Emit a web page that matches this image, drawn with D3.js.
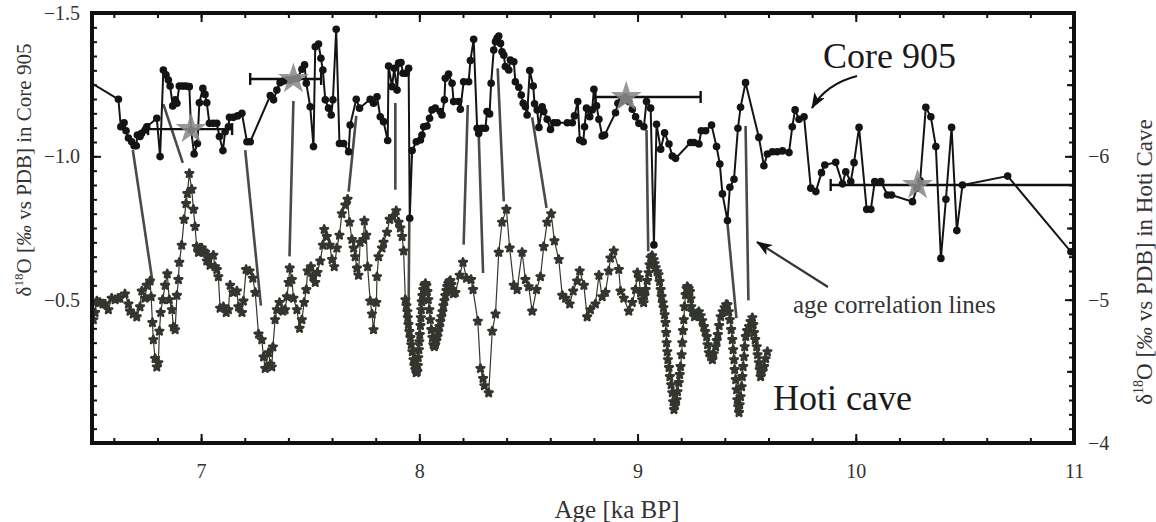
<!DOCTYPE html>
<html>
<head>
<meta charset="utf-8">
<script src="https://cdnjs.cloudflare.com/ajax/libs/d3/7.8.5/d3.min.js"></script>
<style>
  body { margin: 0; background: #fff; }
  svg { display: block; font-family: "Liberation Serif", "Times New Roman", serif; }
  svg text { font-family: "Liberation Serif", "Times New Roman", serif; }
</style>
</head>
<body>
<div id="chart"></div>
<script>
// Core 905: [age ka BP, d18O permil vs PDB]  (left axis)
var core905 = [
  [6.40,-1.30],[6.621,-1.199],[6.632,-1.103],[6.647,-1.117],[6.656,-1.089],[6.667,-1.064],[6.682,-1.051],
  [6.693,-1.037],[6.703,-1.037],[6.708,-1.074],[6.720,-1.069],[6.727,-1.080],[6.743,-1.092],[6.751,-1.103],
  [6.797,-1.133],[6.812,-0.999],[6.827,-1.301],[6.839,-1.284],[6.850,-1.266],[6.858,-1.245],[6.870,-1.176],
  [6.881,-1.197],[6.889,-1.185],[6.900,-1.245],[6.916,-1.245],[6.931,-1.245],[6.946,-1.243],[6.954,-1.092],
  [6.968,-1.008],[6.983,-1.045],[6.992,-1.187],[7.008,-1.237],[7.018,-1.216],[7.026,-1.187],[7.038,-1.115],
  [7.056,-1.115],[7.072,-1.115],[7.084,-1.069],[7.100,-1.020],[7.110,-1.086],[7.125,-1.103],[7.130,-1.136],
  [7.148,-1.136],[7.167,-1.141],[7.187,-1.150],[7.210,-1.051],[7.225,-1.051],[7.317,-1.212],[7.332,-1.197],
  [7.347,-1.231],[7.362,-1.257],[7.378,-1.263],[7.393,-1.266],[7.408,-1.266],[7.423,-1.270],[7.440,-1.272],
  [7.462,-1.304],[7.474,-1.319],[7.482,-1.255],[7.500,-1.173],[7.515,-1.034],[7.523,-1.382],[7.538,-1.392],
  [7.549,-1.342],[7.558,-1.301],[7.569,-1.197],[7.584,-1.168],[7.596,-1.144],[7.604,-1.197],[7.619,-1.443],
  [7.634,-1.045],[7.653,-1.045],[7.676,-1.016],[7.683,-1.109],[7.711,-1.199],[7.726,-1.168],[7.775,-1.199],
  [7.790,-1.185],[7.806,-1.208],[7.821,-1.138],[7.836,-1.121],[7.855,-1.055],[7.859,-1.315],[7.875,-1.243],
  [7.885,-1.307],[7.898,-1.231],[7.905,-1.325],[7.916,-1.327],[7.925,-1.290],[7.940,-1.290],[7.951,-1.307],
  [7.956,-0.784],[7.967,-1.020],[7.986,-1.051],[8.005,-1.057],[8.012,-1.074],[8.020,-1.103],[8.035,-1.106],
  [8.047,-1.133],[8.058,-1.162],[8.073,-1.168],[8.096,-1.156],[8.104,-1.144],[8.115,-1.197],[8.119,-1.272],
  [8.134,-1.287],[8.150,-1.255],[8.157,-1.191],[8.180,-1.191],[8.188,-1.164],[8.203,-1.260],[8.226,-1.260],
  [8.234,-1.334],[8.249,-1.408],[8.265,-1.098],[8.272,-1.080],[8.287,-1.098],[8.303,-1.098],[8.310,-1.156],
  [8.322,-1.148],[8.329,-1.255],[8.341,-1.371],[8.349,-1.400],[8.356,-1.412],[8.364,-1.420],[8.372,-1.394],
  [8.379,-1.365],[8.387,-1.353],[8.394,-1.313],[8.410,-1.301],[8.417,-1.336],[8.433,-1.330],[8.440,-1.260],
  [8.456,-1.241],[8.467,-1.214],[8.476,-1.185],[8.486,-1.173],[8.494,-1.144],[8.506,-1.299],[8.522,-1.245],
  [8.528,-1.183],[8.540,-1.162],[8.548,-1.101],[8.563,-1.173],[8.570,-1.156],[8.586,-1.129],[8.601,-1.094],
  [8.616,-1.117],[8.632,-1.117],[8.678,-1.117],[8.701,-1.117],[8.711,-1.141],[8.726,-1.191],[8.735,-1.057],
  [8.751,-1.051],[8.757,-1.103],[8.766,-1.168],[8.781,-1.138],[8.792,-1.162],[8.800,-1.234],[8.812,-1.176],
  [8.823,-1.129],[8.838,-1.071],[8.849,-1.074],[8.899,-1.152],[8.910,-1.185],[8.925,-1.191],[8.945,-1.208],
  [8.960,-1.191],[8.976,-1.164],[8.991,-1.138],[9.006,-1.115],[9.029,-1.103],[9.041,-1.191],[9.060,-1.168],
  [9.075,-0.691],[9.087,-1.112],[9.106,-1.025],[9.124,-1.082],[9.144,-1.043],[9.159,-1.001],[9.174,-0.993],
  [9.243,-1.048],[9.258,-1.048],[9.281,-1.043],[9.292,-1.089],[9.312,-1.089],[9.339,-1.109],[9.362,-1.034],
  [9.377,-0.973],[9.389,-0.869],[9.412,-0.776],[9.423,-0.892],[9.442,-0.920],[9.460,-1.098],[9.472,-1.171],
  [9.495,-1.257],[9.556,-1.066],[9.579,-0.967],[9.595,-1.008],[9.618,-1.016],[9.640,-1.016],[9.664,-1.019],
  [9.694,-1.013],[9.709,-1.103],[9.722,-1.162],[9.740,-1.129],[9.763,-1.138],[9.794,-0.889],[9.817,-0.877],
  [9.843,-0.943],[9.858,-0.970],[9.908,-0.979],[9.939,-0.904],[9.954,-0.946],[9.977,-0.912],[9.992,-0.978],
  [10.015,-1.101],[10.050,-0.815],[10.069,-0.815],[10.087,-0.912],[10.115,-0.912],[10.145,-0.865],[10.164,-0.865],
  [10.260,-0.842],[10.280,-0.889],[10.295,-0.915],[10.321,-1.171],[10.344,-1.138],[10.367,-1.034],[10.390,-0.644],
  [10.413,-0.850],[10.439,-1.101],[10.463,-0.741],[10.489,-0.900],[10.696,-0.931],[10.986,-0.667],[11.06,-0.62]
];

// Hoti cave: [age ka BP, d18O permil vs PDB]  (right axis)
var hotiCave = [
  [6.506,-4.86],[6.514,-4.91],[6.522,-4.99],[6.529,-4.98],[6.537,-4.98],[6.550,-4.97],[6.560,-4.97],[6.575,-4.93],
  [6.590,-5.01],[6.606,-5.00],[6.619,-5.01],[6.628,-5.01],[6.651,-5.04],[6.667,-4.97],[6.674,-4.92],[6.689,-4.90],
  [6.705,-4.88],[6.720,-4.95],[6.728,-5.06],[6.743,-5.01],[6.751,-5.10],[6.766,-5.13],[6.771,-5.02],[6.777,-4.84],
  [6.781,-4.72],[6.789,-4.59],[6.797,-4.53],[6.804,-4.56],[6.809,-4.78],[6.815,-4.91],[6.824,-5.00],[6.835,-5.10],
  [6.845,-5.18],[6.854,-5.00],[6.866,-4.93],[6.873,-4.81],[6.881,-4.79],[6.889,-5.03],[6.896,-5.14],[6.900,-5.26],
  [6.911,-5.38],[6.922,-5.56],[6.931,-5.67],[6.937,-5.74],[6.946,-5.88],[6.957,-5.77],[6.965,-5.63],[6.972,-5.51],
  [6.980,-5.37],[6.988,-5.33],[6.995,-5.36],[7.003,-5.36],[7.011,-5.34],[7.018,-5.33],[7.026,-5.27],[7.033,-5.29],
  [7.041,-5.24],[7.056,-5.31],[7.064,-5.23],[7.072,-5.21],[7.079,-5.16],[7.087,-4.94],[7.102,-4.95],[7.115,-4.91],
  [7.125,-4.93],[7.133,-5.10],[7.148,-5.05],[7.164,-5.06],[7.171,-4.95],[7.187,-4.91],[7.194,-4.99],[7.206,-5.21],
  [7.222,-5.20],[7.237,-5.15],[7.248,-5.05],[7.263,-4.76],[7.278,-4.72],[7.286,-4.60],[7.294,-4.52],[7.309,-4.63],
  [7.317,-4.55],[7.324,-4.53],[7.329,-4.67],[7.339,-4.86],[7.347,-4.93],[7.359,-4.98],[7.375,-4.92],[7.385,-4.93],
  [7.393,-5.02],[7.401,-5.12],[7.406,-5.22],[7.416,-5.14],[7.423,-5.01],[7.439,-4.93],[7.451,-4.80],[7.462,-4.86],
  [7.472,-4.98],[7.482,-5.07],[7.488,-5.20],[7.503,-5.23],[7.512,-5.16],[7.523,-5.12],[7.533,-5.19],[7.546,-5.27],
  [7.558,-5.38],[7.564,-5.49],[7.576,-5.44],[7.589,-5.38],[7.600,-5.28],[7.610,-5.23],[7.622,-5.36],[7.634,-5.45],
  [7.645,-5.60],[7.661,-5.66],[7.671,-5.70],[7.680,-5.54],[7.691,-5.42],[7.699,-5.36],[7.706,-5.30],[7.714,-5.22],
  [7.721,-5.17],[7.729,-5.40],[7.744,-5.42],[7.748,-5.55],[7.757,-5.45],[7.763,-5.23],[7.775,-4.99],[7.783,-4.90],
  [7.790,-4.79],[7.803,-4.98],[7.806,-5.16],[7.813,-5.30],[7.829,-5.36],[7.836,-5.40],[7.852,-5.47],[7.864,-5.56],
  [7.879,-5.58],[7.894,-5.62],[7.905,-5.54],[7.913,-5.50],[7.921,-5.44],[7.928,-5.34],
  [7.936,-5.000],[7.941,-4.958],[7.945,-4.916],[7.947,-4.874],[7.950,-4.826],[7.954,-4.777],[7.959,-4.735],
  [7.963,-4.686],[7.968,-4.637],[7.973,-4.581],[7.977,-4.540],[7.982,-4.512],[7.986,-4.491],[7.991,-4.498],
  [7.993,-4.540],[7.995,-4.595],[7.998,-4.651],[8.000,-4.707],[8.002,-4.756],[8.005,-4.819],[8.007,-4.874],
  [8.009,-4.930],[8.011,-4.986],[8.014,-5.028],[8.018,-5.070],[8.023,-5.098],[8.028,-5.112],[8.032,-5.098],
  [8.037,-5.056],[8.041,-5.000],[8.046,-4.930],[8.050,-4.860],[8.055,-4.791],[8.060,-4.735],[8.064,-4.686],
  [8.069,-4.672],[8.073,-4.686],[8.078,-4.714],[8.083,-4.742],[8.087,-4.777],[8.092,-4.812],[8.096,-4.847],
  [8.101,-4.881],[8.106,-4.916],[8.110,-4.958],[8.115,-4.993],[8.119,-5.028],[8.124,-5.063],[8.128,-5.091],
  [8.133,-5.112],[8.138,-5.126],[8.142,-5.133],[8.147,-5.105],[8.151,-5.070],[8.156,-5.042],[8.165,-5.049],
  [8.185,-5.17],[8.200,-5.26],[8.216,-5.15],[8.237,-5.14],[8.246,-5.07],[8.268,-4.85],[8.280,-4.52],[8.292,-4.45],
  [8.298,-4.40],[8.318,-4.35],[8.334,-4.78],[8.349,-4.90],[8.364,-5.33],[8.379,-5.54],[8.399,-5.63],[8.414,-5.36],
  [8.433,-5.10],[8.448,-5.07],[8.471,-5.33],[8.486,-5.14],[8.501,-5.09],[8.517,-4.92],[8.537,-5.07],[8.555,-5.16],
  [8.570,-5.37],[8.586,-5.54],[8.604,-5.60],[8.619,-5.41],[8.639,-5.28],[8.655,-5.03],[8.670,-5.01],[8.689,-4.97],
  [8.705,-5.06],[8.723,-5.13],[8.735,-5.20],[8.754,-5.10],[8.769,-4.88],[8.784,-4.93],[8.807,-4.97],[8.823,-5.17],
  [8.838,-5.02],[8.853,-5.05],[8.868,-5.20],[8.876,-5.29],[8.891,-5.34],[8.914,-5.21],[8.922,-5.06],[8.937,-5.01],
  [8.960,-4.92],[8.976,-4.98],
  [8.991,-5.070],[8.999,-5.188],[9.006,-5.153],[9.014,-5.049],[9.021,-5.000],[9.028,-4.979],[9.032,-5.028],
  [9.037,-5.070],[9.044,-5.133],[9.051,-5.188],[9.055,-5.244],[9.060,-5.293],[9.067,-5.307],[9.074,-5.279],
  [9.078,-5.251],[9.083,-5.223],[9.090,-5.195],[9.096,-5.174],[9.101,-5.126],[9.106,-5.070],[9.110,-5.021],
  [9.115,-4.979],[9.119,-4.944],[9.124,-4.895],[9.128,-4.840],[9.131,-4.770],[9.133,-4.700],[9.136,-4.637],
  [9.139,-4.581],[9.144,-4.526],[9.148,-4.463],[9.154,-4.407],[9.159,-4.351],[9.163,-4.288],[9.167,-4.233],
  [9.172,-4.260],[9.179,-4.302],[9.183,-4.358],[9.189,-4.421],[9.193,-4.477],[9.197,-4.533],[9.202,-4.616],
  [9.205,-4.700],[9.208,-4.784],[9.212,-4.860],[9.215,-4.951],[9.220,-5.035],[9.225,-5.077],[9.228,-5.091],
  [9.234,-5.077],[9.240,-5.056],[9.243,-5.007],[9.246,-4.951],[9.252,-4.916],[9.261,-4.881],[9.271,-4.902],
  [9.281,-4.916],[9.289,-4.888],[9.296,-4.853],[9.304,-4.812],[9.310,-4.777],[9.317,-4.742],[9.321,-4.686],
  [9.327,-4.630],[9.335,-4.602],[9.343,-4.581],[9.349,-4.623],[9.358,-4.672],[9.363,-4.714],[9.368,-4.756],
  [9.374,-4.819],[9.381,-4.881],[9.390,-4.916],[9.399,-4.944],[9.406,-4.965],[9.412,-4.965],[9.418,-4.916],
  [9.423,-4.860],[9.429,-4.791],[9.434,-4.721],[9.438,-4.651],[9.442,-4.581],[9.445,-4.512],[9.450,-4.442],
  [9.454,-4.372],[9.457,-4.302],[9.461,-4.253],[9.465,-4.212],[9.468,-4.267],[9.472,-4.323],[9.477,-4.393],
  [9.480,-4.463],[9.484,-4.533],[9.488,-4.602],[9.491,-4.672],[9.496,-4.742],[9.502,-4.784],[9.511,-4.812],
  [9.518,-4.847],[9.526,-4.874],[9.530,-4.826],[9.533,-4.770],[9.539,-4.721],[9.546,-4.672],[9.550,-4.616],
  [9.556,-4.560],[9.560,-4.512],[9.564,-4.463],[9.571,-4.498],[9.580,-4.533],[9.587,-4.588],[9.595,-4.637]
];

// age control points (star) with horizontal age error
var starAge  = [6.954, 7.423, 8.948, 10.283];
var starO18  = [-1.095, -1.27, -1.207, -0.90];
var errLow   = [6.757, 7.225, 8.807, 9.885];
var errHigh  = [7.142, 7.550, 9.289, 11.0];

// age correlation lines: [core age, core d18O, hoti age, hoti d18O]
var corrLines = [
  [6.687,-1.022, 6.778,-5.117],
  [6.827,-1.182, 6.916,-5.954],
  [7.202,-1.022, 7.274,-4.958],
  [7.423,-1.193, 7.405,-5.302],
  [7.711,-1.141, 7.676,-5.754],
  [7.890,-1.186, 7.890,-5.767],
  [7.954,-0.771, 7.951,-4.965],
  [8.222,-1.179, 8.203,-5.384],
  [8.272,-1.080, 8.292,-5.186],
  [8.359,-1.307, 8.387,-5.686],
  [8.517,-1.136, 8.583,-5.639],
  [9.041,-1.092, 9.049,-5.337],
  [9.412,-0.766, 9.453,-4.872],
  [9.495,-1.106, 9.508,-4.995]
];

var xTicks = [7, 8, 9, 10, 11];
var yCoreTicks = [-1.5, -1.0, -0.5];
var yHotiTicks = [-6, -5, -4];

var W = 1156, H = 522;
var m = { left: 92, right: 1074, top: 13, bottom: 443 };
var serif = "'Liberation Serif', 'Times New Roman', serif";

var svg = d3.select("#chart").append("svg")
  .attr("width", W)
  .attr("height", H);

var x = d3.scaleLinear().domain([6.5, 11]).range([m.left, m.right]);
var yCore = d3.scaleLinear().domain([-1.5, 0]).range([m.top, m.bottom]);
var yHoti = d3.scaleLinear().domain([-7, -4]).range([m.top, m.bottom]);

var defs = svg.append("defs");
defs.append("clipPath").attr("id", "plotclip")
  .append("rect")
  .attr("x", m.left).attr("y", m.top)
  .attr("width", m.right - m.left).attr("height", m.bottom - m.top);

defs.append("marker")
  .attr("id", "arrow")
  .attr("viewBox", "0 0 16 12")
  .attr("refX", 15).attr("refY", 6)
  .attr("markerWidth", 16).attr("markerHeight", 12)
  .attr("markerUnits", "userSpaceOnUse")
  .attr("orient", "auto")
  .append("path")
  .attr("d", "M0,0 L16,6 L0,12 L4,6 Z")
  .attr("fill", "#111");

// axes: minor + major ticks, pointing inward
function styleAxis(g) {
  g.attr("font-family", serif).attr("font-size", 20);
  g.select(".domain").remove();
  g.selectAll(".tick line").attr("stroke", "#111").attr("stroke-width", 2);
  g.selectAll(".tick text")
    .attr("fill", "#333")
    .style("font-family", serif)
    .style("font-size", "20px");
}

var xMinor = d3.range(6.6, 11, 0.2);
svg.append("g").attr("transform", `translate(0,${m.bottom})`)
  .call(d3.axisBottom(x).tickValues(xMinor).tickSize(-5).tickFormat(""))
  .call(styleAxis);
svg.append("g").attr("transform", `translate(0,${m.bottom})`)
  .call(d3.axisBottom(x).tickValues(xTicks).tickSizeInner(-9).tickSizeOuter(0).tickPadding(21).tickFormat(d3.format("d")))
  .call(styleAxis);
svg.append("g").attr("transform", `translate(0,${m.top})`)
  .call(d3.axisTop(x).tickValues(xMinor).tickSize(-5).tickFormat(""))
  .call(styleAxis);
svg.append("g").attr("transform", `translate(0,${m.top})`)
  .call(d3.axisTop(x).tickValues(xTicks).tickSize(-9).tickFormat(""))
  .call(styleAxis);

svg.append("g").attr("transform", `translate(${m.left},0)`)
  .call(d3.axisLeft(yCore).tickValues(d3.range(-1.5, 0.001, 0.05)).tickSize(-5).tickFormat(""))
  .call(styleAxis);
svg.append("g").attr("transform", `translate(${m.left},0)`)
  .call(d3.axisLeft(yCore).tickValues(yCoreTicks).tickSizeInner(-9).tickSizeOuter(0).tickPadding(12).tickFormat(d3.format(".1f")))
  .call(styleAxis);

svg.append("g").attr("transform", `translate(${m.right},0)`)
  .call(d3.axisRight(yHoti).tickValues(d3.range(-7, -3.99, 0.1)).tickSize(-5).tickFormat(""))
  .call(styleAxis);
svg.append("g").attr("transform", `translate(${m.right},0)`)
  .call(d3.axisRight(yHoti).tickValues([-6.5, -5.5, -4.5]).tickSize(-7).tickFormat(""))
  .call(styleAxis);
svg.append("g").attr("transform", `translate(${m.right},0)`)
  .call(d3.axisRight(yHoti).tickValues(yHotiTicks).tickSizeInner(-9).tickSizeOuter(0).tickPadding(14).tickFormat(d3.format("d")))
  .call(styleAxis);

var plot = svg.append("g").attr("clip-path", "url(#plotclip)");

// age correlation lines
plot.selectAll(".corr")
  .data(corrLines)
  .enter().append("line")
  .attr("x1", d => x(d[0])).attr("y1", d => yCore(d[1]))
  .attr("x2", d => x(d[2])).attr("y2", d => yHoti(d[3]))
  .attr("stroke", "#4a4b46")
  .attr("stroke-width", 2.6);

// Hoti cave series
var hotiColor = "#33362f";
plot.append("path")
  .datum(hotiCave)
  .attr("fill", "none")
  .attr("stroke", hotiColor)
  .attr("stroke-width", 1.2)
  .attr("d", d3.line().x(d => x(d[0])).y(d => yHoti(d[1])));

var hotiSymbol = d3.symbol().type(d3.symbolStar).size(18);
plot.selectAll(".hoti")
  .data(hotiCave)
  .enter().append("path")
  .attr("transform", d => `translate(${x(d[0])},${yHoti(d[1])})`)
  .attr("d", hotiSymbol)
  .attr("fill", hotiColor)
  .attr("stroke", hotiColor)
  .attr("stroke-width", 2.6)
  .attr("stroke-linejoin", "round");

// Core 905 series
plot.append("path")
  .datum(core905)
  .attr("fill", "none")
  .attr("stroke", "#141414")
  .attr("stroke-width", 2)
  .attr("d", d3.line().x(d => x(d[0])).y(d => yCore(d[1])));

plot.selectAll(".core")
  .data(core905)
  .enter().append("circle")
  .attr("cx", d => x(d[0]))
  .attr("cy", d => yCore(d[1]))
  .attr("r", 3.8)
  .attr("fill", "#141414");

// error bars
var bars = plot.selectAll(".err")
  .data(starAge.map((a, i) => i))
  .enter().append("g");
bars.append("line")
  .attr("x1", i => x(errLow[i])).attr("x2", i => x(errHigh[i]))
  .attr("y1", i => yCore(starO18[i])).attr("y2", i => yCore(starO18[i]))
  .attr("stroke", "#111").attr("stroke-width", 2.4);
bars.append("line")
  .attr("x1", i => x(errLow[i])).attr("x2", i => x(errLow[i]))
  .attr("y1", i => yCore(starO18[i]) - 6).attr("y2", i => yCore(starO18[i]) + 6)
  .attr("stroke", "#111").attr("stroke-width", 2.4);
bars.append("line")
  .attr("x1", i => x(errHigh[i])).attr("x2", i => x(errHigh[i]))
  .attr("y1", i => yCore(starO18[i]) - 6).attr("y2", i => yCore(starO18[i]) + 6)
  .attr("stroke", "#111").attr("stroke-width", 2.4);

// stars
plot.selectAll(".star")
  .data(starAge.map((a, i) => i))
  .enter().append("path")
  .attr("transform", i => `translate(${x(starAge[i])},${yCore(starO18[i])})`)
  .attr("d", d3.symbol().type(d3.symbolStar).size(300))
  .attr("fill", "#8a8a8a")
  .attr("opacity", 0.88);

// frame
svg.append("rect")
  .attr("x", m.left).attr("y", m.top)
  .attr("width", m.right - m.left).attr("height", m.bottom - m.top)
  .attr("fill", "none")
  .attr("stroke", "#111")
  .attr("stroke-width", 4);

// annotations
svg.append("text")
  .attr("x", 823).attr("y", 68)
  .attr("font-size", "36px").attr("fill", "#1a1a1a")
  .text("Core 905");
svg.append("path")
  .attr("d", "M857,76 Q826,84 812,108")
  .attr("fill", "none").attr("stroke", "#111").attr("stroke-width", 2.2)
  .attr("marker-end", "url(#arrow)");

svg.append("text")
  .attr("x", 773).attr("y", 410)
  .attr("font-size", "36px").attr("fill", "#1a1a1a")
  .text("Hoti cave");

svg.append("text")
  .attr("x", 793).attr("y", 313)
  .attr("font-size", "25px").attr("fill", "#333")
  .text("age correlation lines");
svg.append("line")
  .attr("x1", 828).attr("y1", 287).attr("x2", 757).attr("y2", 242)
  .attr("stroke", "#333").attr("stroke-width", 2.2)
  .attr("marker-end", "url(#arrow)");

// axis titles
svg.append("text")
  .attr("x", 617).attr("y", 518)
  .attr("text-anchor", "middle")
  .attr("font-size", "25px").attr("fill", "#333")
  .text("Age [ka BP]");

function yTitle(xPos, yPos, size, tail) {
  var t = svg.append("text")
    .attr("transform", `translate(${xPos},${yPos}) rotate(-90)`)
    .attr("text-anchor", "middle")
    .attr("font-size", size + "px").attr("fill", "#333");
  t.append("tspan").text("\u03b4");
  t.append("tspan").attr("font-size", Math.round(size * 0.62) + "px").attr("dy", -size * 0.38).text("18");
  t.append("tspan").attr("dy", size * 0.38).text("O [");
  t.append("tspan").attr("font-style", "italic").text("\u2030");
  t.append("tspan").text(" vs PDB] in " + tail);
}
yTitle(31, 170, 21, "Core 905");
yTitle(1152, 262, 23, "Hoti Cave");
</script>
</body>
</html>
